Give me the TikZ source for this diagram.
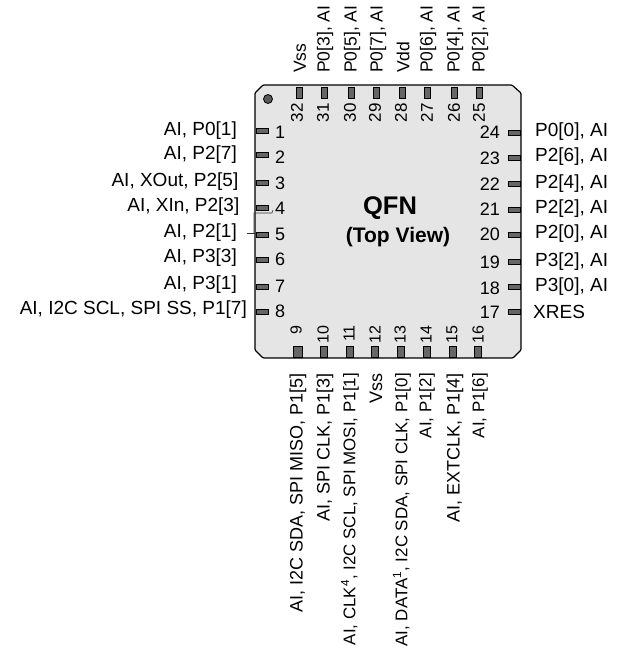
\documentclass[tikz,border=0pt]{standalone}
\usepackage{fontspec}
\setmainfont{Liberation Sans}
\tikzset{
  pinleft/.style={draw=black,fill=black!60,line width=0.8pt,minimum width=12pt,minimum height=5pt,inner sep=0pt},
  pinright/.style={pinleft},
  pintop/.style={draw=black,fill=black!60,line width=0.8pt,minimum width=6pt,minimum height=11pt,inner sep=0pt},
  pinbottom/.style={pintop,minimum width=7pt},
  lbl/.style={inner sep=0pt,font=\fontsize{19}{22}\selectfont},
  num/.style={inner sep=0pt,font=\fontsize{18}{21}\selectfont},
  numup/.style={inner sep=0pt,rotate=90,font=\fontsize{17}{20}\selectfont},
  numdown/.style={numup,font=\fontsize{16}{19}\selectfont},
  lblup/.style={inner sep=0pt,rotate=90,font=\fontsize{18}{21}\selectfont},
  lblslim/.style={lblup,font=\fontsize{16.9}{20}\selectfont},
  lbltop/.style={lblup,font=\fontsize{17.5}{20}\selectfont},
}
\begin{document}
\begin{tikzpicture}[x=1pt,y=-1pt]
            \useasboundingbox (0,0) rectangle (620,649);

            \draw[fill=black!10,line width=1.2pt,rounded corners=1pt] (255,93) -- (263,85) -- (512,85) -- (521,93) -- (521,350) -- (513,358) -- (263,358) -- (255,350) -- cycle;
            \fill[black!65,draw=black,line width=0.8pt] (268,99) circle (4.5pt);
            \draw[black!80,line width=0.6pt] (273,210) -- (272,213) -- (253.8,213) -- (253.8,233);
            \draw[black!80,line width=0.6pt] (247,233) -- (256,233);

            \node[font=\bfseries\fontsize{25.5}{30}\selectfont,inner sep=0pt] (QFN) at (390,208) {QFN};
            \node[font=\bfseries\fontsize{21}{25}\selectfont,inner sep=0pt] (TV) at (398,237) {(Top View)};

            % left side
            \node[pinleft] (P1) at (262,131) {};
            \node[pinleft] (P2) at (262,155) {};
            \node[pinleft] (P3) at (262,183) {};
            \node[pinleft] (P4) at (262,208) {};
            \node[pinleft] (P5) at (262,235) {};
            \node[pinleft] (P6) at (262,260) {};
            \node[pinleft] (P7) at (262,287) {};
            \node[pinleft] (P8) at (262,312) {};

            \node[num,anchor=west] (N1) at (275,132) {1};
            \node[num,anchor=west] (N2) at (275,157) {2};
            \node[num,anchor=west] (N3) at (275,183) {3};
            \node[num,anchor=west] (N4) at (275,208) {4};
            \node[num,anchor=west] (N5) at (275,234) {5};
            \node[num,anchor=west] (N6) at (275,259) {6};
            \node[num,anchor=west] (N7) at (275,286) {7};
            \node[num,anchor=west] (N8) at (275,311) {8};

            \node[lbl,anchor=east] (L1) at (237,131) {AI, P0[1]};
            \node[lbl,anchor=east] (L2) at (237,155) {AI, P2[7]};
            \node[lbl,anchor=east] (L3) at (238.5,182) {AI, XOut, P2[5]};
            \node[lbl,anchor=east] (L4) at (239.5,207) {AI, XIn, P2[3]};
            \node[lbl,anchor=east] (L5) at (237,233) {AI, P2[1]};
            \node[lbl,anchor=east] (L6) at (237,258) {AI, P3[3]};
            \node[lbl,anchor=east] (L7) at (237,285) {AI, P3[1]};
            \node[lbl,anchor=east] (L8) at (247,310) {AI, I2C SCL, SPI SS, P1[7]};

            % right side
            \node[pinright] (P24) at (514,133) {};
            \node[pinright] (P23) at (514,158) {};
            \node[pinright] (P22) at (514,184) {};
            \node[pinright] (P21) at (514,210) {};
            \node[pinright] (P20) at (514,235) {};
            \node[pinright] (P19) at (514,262) {};
            \node[pinright] (P18) at (514,287) {};
            \node[pinright] (P17) at (514,312) {};

            \node[num,anchor=east] (N24) at (500,132) {24};
            \node[num,anchor=east] (N23) at (500,158) {23};
            \node[num,anchor=east] (N22) at (500,184) {22};
            \node[num,anchor=east] (N21) at (500,209) {21};
            \node[num,anchor=east] (N20) at (500,234) {20};
            \node[num,anchor=east] (N19) at (500,262) {19};
            \node[num,anchor=east] (N18) at (500,288) {18};
            \node[num,anchor=east] (N17) at (500,312) {17};

            \node[lbl,anchor=west] (L24) at (535,132) {P0[0], AI};
            \node[lbl,anchor=west] (L23) at (535,157) {P2[6], AI};
            \node[lbl,anchor=west] (L22) at (535,184) {P2[4], AI};
            \node[lbl,anchor=west] (L21) at (535,209) {P2[2], AI};
            \node[lbl,anchor=west] (L20) at (535,234) {P2[0], AI};
            \node[lbl,anchor=west] (L19) at (535,262) {P3[2], AI};
            \node[lbl,anchor=west] (L18) at (535,287) {P3[0], AI};
            \node[lbl,anchor=west] (L17) at (533,312) {XRES};

            % top side
            \node[pintop] (P32) at (299,93) {};
            \node[pintop] (P31) at (324,93) {};
            \node[pintop] (P30) at (351,93) {};
            \node[pintop] (P29) at (376,93) {};
            \node[pintop] (P28) at (402,93) {};
            \node[pintop] (P27) at (427,93) {};
            \node[pintop] (P26) at (454,93) {};
            \node[pintop] (P25) at (479,93) {};

            \node[numup,anchor=east] (N32) at (297,103) {32};
            \node[numup,anchor=east] (N31) at (323,103) {31};
            \node[numup,anchor=east] (N30) at (350,103) {30};
            \node[numup,anchor=east] (N29) at (375,103) {29};
            \node[numup,anchor=east] (N28) at (401,103) {28};
            \node[numup,anchor=east] (N27) at (427,103) {27};
            \node[numup,anchor=east] (N26) at (454,103) {26};
            \node[numup,anchor=east] (N25) at (479,103) {25};

            \node[lbltop,anchor=west] (L32) at (300,73) {Vss};
            \node[lbltop,anchor=west] (L31) at (325,73) {P0[3], AI};
            \node[lbltop,anchor=west] (L30) at (352,73) {P0[5], AI};
            \node[lbltop,anchor=west] (L29) at (378,73) {P0[7], AI};
            \node[lbltop,anchor=west] (L28) at (403,73) {Vdd};
            \node[lbltop,anchor=west] (L27) at (428,73) {P0[6], AI};
            \node[lbltop,anchor=west] (L26) at (455,73) {P0[4], AI};
            \node[lbltop,anchor=west] (L25) at (480,73) {P0[2], AI};

            % bottom side
            \node[pinbottom,minimum width=9pt] (P9) at (298,352) {};
            \node[pinbottom] (P10) at (324,352) {};
            \node[pinbottom] (P11) at (350,352) {};
            \node[pinbottom] (P12) at (375,352) {};
            \node[pinbottom] (P13) at (401,352) {};
            \node[pinbottom] (P14) at (427,352) {};
            \node[pinbottom] (P15) at (453,352) {};
            \node[pinbottom] (P16) at (478,352) {};

            \node[numdown,anchor=east] (N9) at (296,325) {9};
            \node[numdown,anchor=east] (N10) at (323,325) {10};
            \node[numdown,anchor=east] (N11) at (349,325) {11};
            \node[numdown,anchor=east] (N12) at (375,325) {12};
            \node[numdown,anchor=east] (N13) at (400,325) {13};
            \node[numdown,anchor=east] (N14) at (426,325) {14};
            \node[numdown,anchor=east] (N15) at (452,325) {15};
            \node[numdown,anchor=east] (N16) at (478,325) {16};

            \node[lblup,anchor=east] (L9) at (298,373) {AI, I2C SDA, SPI MISO, P1[5]};
            \node[lblup,anchor=east] (L10) at (325,373) {AI, SPI CLK, P1[3]};
            \node[lblslim,anchor=east] (L11) at (350,373) {AI, CLK\textsuperscript{4}, I2C SCL, SPI MOSI, P1[1]};
            \node[lblup,anchor=east] (L12) at (376,373) {Vss};
            \node[lblslim,anchor=east] (L13) at (402,373) {AI, DATA\textsuperscript{1}, I2C SDA, SPI CLK, P1[0]};
            \node[lblslim,anchor=east] (L14) at (427,373) {AI, P1[2]};
            \node[lblup,anchor=east] (L15) at (455,373) {AI, EXTCLK, P1[4]};
            \node[lblslim,anchor=east] (L16) at (480,373) {AI, P1[6]};
\end{tikzpicture}
\end{document}
